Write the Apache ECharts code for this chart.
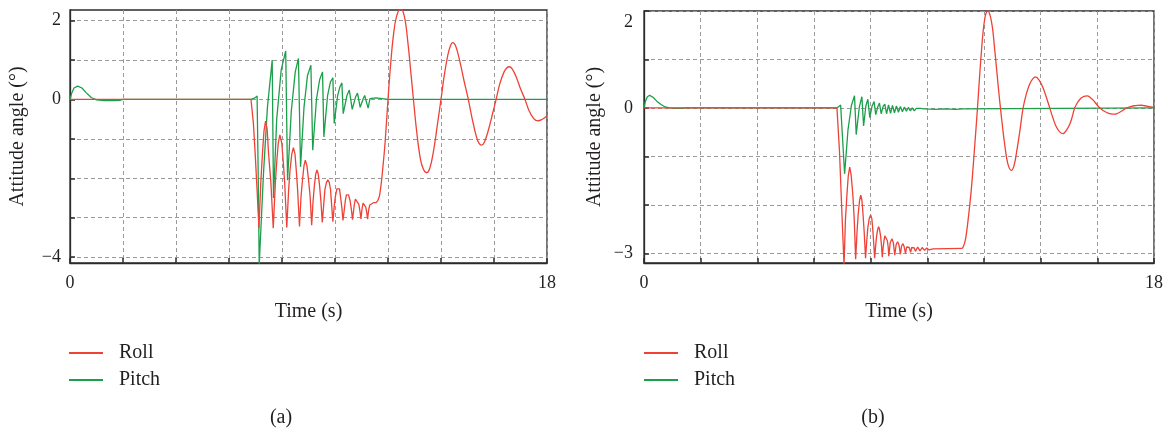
<!DOCTYPE html>
<html>
<head>
<meta charset="utf-8">
<script src="https://cdn.jsdelivr.net/npm/echarts@6/dist/echarts.min.js"></script>
<style>
  html, body { margin: 0; padding: 0; background: #fff; }
  #chart { width: 1173px; height: 433px; }
</style>
</head>
<body>
<div id="chart"></div>
<script>
// ---- data: time (s) / attitude angle (deg) ----
const seriesNames = ['Roll', 'Pitch'];
const panelLabels = ['(a)', '(b)'];
const xLabelValues = [0, 18];
const yLabelValuesA = [-4, 0, 2];
const yLabelValuesB = [-3, 0, 2];
const yGridValuesA = [-4, -3, -2, -1, 0, 1, 2];
const yGridValuesB = [-3, -2, -1, 0, 1, 2];

// panel (a)
const pitchA = [
  [0,0],[0.06,0.15],[0.15,0.29],[0.29,0.34],[0.45,0.29],[0.6,0.18],[0.8,0.05],[1.0,-0.01],[1.3,-0.03],[1.6,-0.03],[1.9,-0.02],[2.0,0],
  [6.83,0],[6.98,0.04],[7.06,0.09],[7.1,-1.8],[7.14,-4.2],[7.3,-1.9],[7.45,-0.2],[7.63,1.0],
  [7.68,-2.5],[7.8,-0.5],[7.97,0.75],[8.14,1.23],
  [8.21,-2.05],[8.35,-0.3],[8.5,0.7],[8.62,1.04],
  [8.7,-1.71],[8.83,-0.2],[8.96,0.6],[9.09,0.87],
  [9.16,-1.29],[9.3,0.0],[9.42,0.5],[9.53,0.7],
  [9.58,-0.95],[9.72,0.1],[9.83,0.45],[9.92,0.55],
  [9.97,-0.61],[10.1,0.1],[10.19,0.33],[10.26,0.42],
  [10.31,-0.36],[10.45,0.1],[10.54,0.24],[10.6,0.28],
  [10.65,-0.25],[10.78,0.07],[10.85,0.16],[10.9,0.19],
  [10.95,-0.2],[11.07,0.03],[11.12,0.1],[11.17,0.12],
  [11.25,-0.22],[11.32,0.02],[11.38,0.05],[11.55,0.04],[11.7,0.03],[12.0,0.0],[18,0]
];
const rollA_osc = [
  [0,0],[6.83,0],[6.92,-0.6],[6.99,-1.4],[7.06,-2.3],[7.13,-3.27],
  [7.2,-2.1],[7.265,-1.35],[7.32,-0.8],[7.38,-0.55],[7.44,-0.75],[7.49,-1.35],[7.58,-2.1],[7.67,-3.27],
  [7.75,-2.1],[7.8,-1.6],[7.86,-1.1],[7.92,-0.9],[7.99,-1.1],[8.05,-1.6],[8.1,-2.1],[8.18,-3.25],
  [8.25,-2.3],[8.3,-1.81],[8.37,-1.38],[8.43,-1.22],[8.49,-1.38],[8.54,-1.81],[8.59,-2.3],[8.66,-3.22],
  [8.72,-2.45],[8.775,-2.03],[8.83,-1.68],[8.88,-1.54],[8.94,-1.68],[9.0,-2.03],[9.06,-2.45],[9.12,-3.19],
  [9.17,-2.6],[9.22,-2.2],[9.27,-1.9],[9.32,-1.79],[9.37,-1.9],[9.42,-2.2],[9.47,-2.6],[9.52,-3.12],
  [9.57,-2.7],[9.62,-2.28],[9.68,-2.1],[9.73,-2.04],[9.78,-2.1],[9.83,-2.28],[9.87,-2.65],[9.92,-3.1],
  [9.97,-2.72],[10.01,-2.48],[10.07,-2.27],[10.12,-2.22],[10.17,-2.27],[10.21,-2.48],[10.26,-2.75],[10.3,-3.07],
  [10.35,-2.8],[10.39,-2.57],[10.43,-2.42],[10.47,-2.37],[10.51,-2.42],[10.57,-2.57],[10.62,-2.8],[10.66,-3.05],
  [10.7,-2.83],[10.73,-2.66],[10.77,-2.53],[10.8,-2.5],[10.84,-2.54],[10.9,-2.66],[10.94,-2.83],[10.98,-3.03],
  [11.01,-2.83],[11.03,-2.73],[11.06,-2.63],[11.09,-2.6],[11.12,-2.63],[11.16,-2.73],[11.2,-2.88],[11.23,-3.04],
  [11.27,-2.8],[11.31,-2.68],[11.36,-2.64],[11.45,-2.62],[11.55,-2.62],[11.62,-2.56],[11.68,-2.45]
];
const rollA_wave = [
  [11.68,-2.45],[11.75,-2.1],[11.81,-1.7],[11.89,-1.1],[12.0,0],[12.1,0.9],[12.2,1.6],[12.32,2.1],[12.48,2.3],
  [12.62,2.1],[12.75,1.45],[12.86,0.7],[12.96,0],[13.08,-0.8],[13.22,-1.5],[13.34,-1.78],[13.46,-1.86],
  [13.58,-1.74],[13.72,-1.3],[13.86,-0.66],[14.0,0],[14.12,0.6],[14.25,1.1],[14.35,1.35],[14.44,1.44],
  [14.55,1.36],[14.7,1.0],[14.86,0.5],[15.03,0],[15.18,-0.5],[15.33,-0.93],[15.43,-1.11],[15.53,-1.16],
  [15.64,-1.08],[15.8,-0.75],[15.95,-0.35],[16.08,0],[16.22,0.4],[16.38,0.7],[16.48,0.8],[16.57,0.83],
  [16.68,0.78],[16.85,0.55],[17.0,0.27],[17.17,0],[17.32,-0.28],[17.48,-0.47],[17.58,-0.53],[17.67,-0.54],
  [17.78,-0.52],[17.9,-0.47],[18,-0.42]
];

// panel (b)
const pitchB = [
  [0,0],[0.05,0.14],[0.12,0.23],[0.2,0.26],[0.32,0.22],[0.45,0.14],[0.6,0.07],[0.75,0.02],[0.9,0],[1.1,-0.01],[1.37,-0.01],[1.45,0],
  [6.81,0],[6.88,0.03],[6.94,0.06],[7.0,-0.55],[7.08,-1.36],[7.2,-0.45],[7.32,0.05],[7.43,0.25],
  [7.49,-0.55],[7.6,0.02],[7.69,0.23],[7.75,-0.37],[7.83,0.04],[7.9,0.18],[7.97,-0.2],[8.05,0.04],
  [8.12,0.13],[8.18,-0.14],[8.25,0.02],[8.31,0.1],[8.37,-0.12],[8.44,0.03],[8.5,0.08],[8.56,-0.12],
  [8.63,0.06],[8.7,-0.11],[8.77,0.05],[8.84,-0.1],[8.91,0.04],[8.98,-0.09],[9.05,0.03],[9.12,-0.08],
  [9.19,0.02],[9.26,-0.07],[9.33,0.01],[9.4,-0.06],[9.47,0.0],[9.54,-0.06],[9.61,-0.01],[9.68,-0.05],
  [9.75,-0.01],[9.82,-0.05],[9.89,-0.02],[9.96,-0.04],[10.1,-0.025],[10.3,-0.03],[10.6,-0.02],
  [11.0,-0.03],[11.26,-0.02],[11.32,0],[18,0]
];
const rollB_osc = [
  [0,0],[6.81,0],[6.9,-0.9],[6.98,-2.1],[7.06,-3.25],
  [7.11,-2.3],[7.16,-1.81],[7.21,-1.4],[7.26,-1.22],[7.31,-1.38],[7.37,-1.78],[7.42,-2.3],[7.47,-3.12],
  [7.52,-2.55],[7.56,-2.19],[7.61,-1.9],[7.65,-1.8],[7.69,-1.9],[7.73,-2.19],[7.77,-2.55],[7.82,-3.1],
  [7.86,-2.75],[7.9,-2.47],[7.95,-2.28],[8.0,-2.21],[8.04,-2.28],[8.07,-2.47],[8.1,-2.72],[8.14,-3.1],
  [8.18,-2.82],[8.21,-2.64],[8.25,-2.5],[8.28,-2.45],[8.31,-2.5],[8.35,-2.64],[8.38,-2.82],[8.41,-3.08],
  [8.44,-2.88],[8.47,-2.74],[8.5,-2.64],[8.53,-2.6],[8.56,-2.64],[8.59,-2.74],[8.62,-2.88],[8.64,-3.06],
  [8.69,-2.78],[8.75,-2.7],[8.8,-2.78],[8.85,-3.04],[8.9,-2.82],[8.95,-2.76],[9.0,-2.83],[9.05,-3.02],
  [9.09,-2.85],[9.14,-2.8],[9.18,-2.86],[9.23,-3.0],[9.27,-2.87],[9.32,-2.83],[9.36,-2.88],[9.41,-2.98],
  [9.45,-2.88],[9.5,-2.85],[9.54,-2.89],[9.58,-2.96],[9.66,-2.87],[9.74,-2.95],[9.82,-2.88],[9.9,-2.94],
  [9.98,-2.89],[10.06,-2.93],[10.2,-2.91],[11.24,-2.9]
];
const rollB_wave = [
  [11.24,-2.9],[11.32,-2.78],[11.38,-2.59],[11.47,-2.15],[11.56,-1.63],[11.66,-0.88],[11.77,0],
  [11.91,1.17],[12.03,1.85],[12.14,2.0],[12.22,1.9],[12.3,1.65],[12.37,1.25],[12.44,0.83],[12.51,0.4],[12.58,0],
  [12.66,-0.42],[12.73,-0.75],[12.84,-1.15],[12.97,-1.29],[13.06,-1.19],[13.14,-0.95],[13.26,-0.5],[13.38,0],
  [13.5,0.3],[13.61,0.49],[13.72,0.6],[13.82,0.64],[13.95,0.57],[14.08,0.42],[14.2,0.22],[14.32,0],
  [14.44,-0.22],[14.56,-0.4],[14.68,-0.5],[14.79,-0.53],[14.91,-0.46],[15.03,-0.33],[15.12,-0.17],[15.2,0],
  [15.31,0.12],[15.42,0.2],[15.53,0.24],[15.64,0.25],[15.76,0.21],[15.87,0.15],[15.98,0.07],[16.09,0],
  [16.22,-0.06],[16.35,-0.1],[16.48,-0.125],[16.61,-0.13],[16.72,-0.11],[16.82,-0.08],[16.93,-0.04],[17.03,0],
  [17.17,0.025],[17.3,0.045],[17.43,0.053],[17.56,0.055],[17.68,0.045],[17.8,0.03],[17.9,0.02],[18,0.01]
];

// ---- styling ----
const FONT = '"Liberation Serif", "Times New Roman", serif';
const TEXT = '#231f20';
const AXIS = '#2b2b2b';
const GRIDLINE = '#9a9a9a';
const RED = '#ef4136';
const GREEN = '#1c9f4a';

function fmtNum(v) {
  return v < 0 ? '\u2212' + Math.abs(v) : String(v);
}

function xAxisFor(gridIndex) {
  return {
    gridIndex, type: 'value', min: 0, max: 18, interval: 2,
    name: 'Time (s)', nameLocation: 'middle', nameGap: 39,
    nameTextStyle: { fontFamily: FONT, fontSize: 20, color: TEXT },
    axisLine: { show: true, onZero: false, lineStyle: { color: AXIS, width: 1.3 } },
    axisTick: { show: true, inside: true, length: 5, lineStyle: { color: AXIS, width: 1.5 } },
    axisLabel: { customValues: xLabelValues, fontFamily: FONT, fontSize: 18, color: TEXT, margin: 11,
                 formatter: fmtNum },
    splitLine: { show: true, lineStyle: { color: GRIDLINE, width: 1, type: [4, 3] } }
  };
}

function yAxisFor(gridIndex, min, max, gridVals, labelVals, nameGap, margin, topLabelShift) {
  return {
    gridIndex, type: 'value', min, max,
    name: 'Attitude angle (\u00b0)', nameLocation: 'middle', nameGap,
    nameTextStyle: { fontFamily: FONT, fontSize: 20, color: TEXT },
    axisLine: { show: true, onZero: false, lineStyle: { color: AXIS, width: 1.3 } },
    axisTick: { show: true, inside: true, length: 5, customValues: gridVals,
                lineStyle: { color: AXIS, width: 1.5 } },
    axisLabel: {
      customValues: labelVals, fontFamily: FONT, fontSize: 18, color: TEXT, margin,
      formatter: (v) => (topLabelShift && v === max) ? '{top|' + fmtNum(v) + '}' : fmtNum(v),
      rich: { top: { fontFamily: FONT, fontSize: 18, color: TEXT, padding: [topLabelShift || 0, 0, 0, 0] } }
    },
    splitLine: { show: true, lineStyle: { color: GRIDLINE, width: 1, type: [4, 3] } }
  };
}

function line(name, data, color, xi, smooth) {
  return {
    name, type: 'line', data, xAxisIndex: xi, yAxisIndex: xi,
    showSymbol: false, symbol: 'none', smooth: smooth ? 0.4 : false, clip: true,
    itemStyle: { color }, lineStyle: { color, width: 1.3 }
  };
}

function legendFor(left) {
  return {
    left, top: 338, orient: 'vertical', icon: 'rect',
    itemWidth: 34, itemHeight: 2, itemGap: 7, selectedMode: false,
    data: seriesNames,
    textStyle: { fontFamily: FONT, fontSize: 20, color: TEXT, lineHeight: 18, padding: [0, 0, 0, 11] }
  };
}

const chart = echarts.init(document.getElementById('chart'), null, { renderer: 'canvas' });
chart.setOption({
  animation: false,
  backgroundColor: '#fff',
  grid: [
    { left: 70, top: 10, width: 477, height: 253, show: true, borderColor: AXIS, borderWidth: 1.3, backgroundColor: 'transparent' },
    { left: 644, top: 11, width: 510, height: 252, show: true, borderColor: AXIS, borderWidth: 1.3, backgroundColor: 'transparent' }
  ],
  xAxis: [xAxisFor(0), xAxisFor(1)],
  yAxis: [
    yAxisFor(0, -4.15, 2.27, yGridValuesA, yLabelValuesA, 42, 9, 0),
    yAxisFor(1, -3.2, 2, yGridValuesB, yLabelValuesB, 39, 11, 22)
  ],
  legend: [legendFor(64), legendFor(639)],
  graphic: [
    { type: 'text', x: 281, y: 418, style: { text: panelLabels[0], align: 'center', verticalAlign: 'middle', fontFamily: FONT, fontSize: 20, fill: TEXT } },
    { type: 'text', x: 873, y: 418, style: { text: panelLabels[1], align: 'center', verticalAlign: 'middle', fontFamily: FONT, fontSize: 20, fill: TEXT } }
  ],
  series: [
    line('Pitch', pitchA, GREEN, 0, false),
    line('Roll', rollA_osc, RED, 0, false),
    line('Roll', rollA_wave, RED, 0, true),
    line('Pitch', pitchB, GREEN, 1, false),
    line('Roll', rollB_osc, RED, 1, false),
    line('Roll', rollB_wave, RED, 1, true)
  ]
});
</script>
</body>
</html>
